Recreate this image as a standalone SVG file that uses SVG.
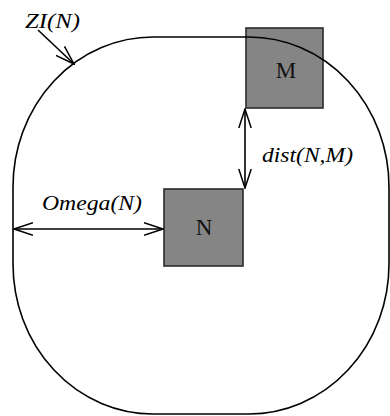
<svg xmlns="http://www.w3.org/2000/svg" width="390" height="416" viewBox="0 0 390 416">
<style>
.ln{fill:none;stroke:#000;stroke-width:1.6}
.box{fill:#858585;stroke:#2a2a2a;stroke-width:1.6}
.lbl{font-family:"Liberation Serif",serif;font-size:21px;fill:#000}
.nl{font-family:"Liberation Serif",serif;font-size:23px;fill:#111}
.it{font-style:italic}
</style>
<defs>
<marker id="ah" viewBox="0 0 20 14" refX="19" refY="7" markerWidth="20" markerHeight="14" markerUnits="userSpaceOnUse" orient="auto-start-reverse">
<path d="M0,0.8 L19,7 L0,13.2" fill="none" stroke="#000" stroke-width="1.5"/>
</marker>
</defs>
<g id="boxes">
<g id="nodeM"><rect class="box" x="246" y="28" width="77" height="80"/><text class="nl" x="286" y="78" text-anchor="middle">M</text></g>
<g id="nodeN"><rect class="box" x="164" y="189" width="79" height="77"/><text class="nl" x="204" y="235" text-anchor="middle">N</text></g>
</g>
<g id="zone"><rect class="ln" x="13" y="37" width="376" height="377" rx="140" ry="150"/></g>
<g id="connectors">
<line class="ln" x1="245" y1="109" x2="245" y2="188" marker-start="url(#ah)" marker-end="url(#ah)"/>
<line class="ln" x1="14" y1="229" x2="163" y2="229" marker-start="url(#ah)" marker-end="url(#ah)"/>
<line class="ln" x1="38" y1="30" x2="74" y2="64" marker-end="url(#ah)"/>
</g>
<g id="labels">
<text class="lbl it" x="25" y="28" textLength="55" lengthAdjust="spacingAndGlyphs">ZI(N)</text>
<text class="lbl it" x="262" y="162" textLength="91" lengthAdjust="spacingAndGlyphs">dist(N,M)</text>
<text class="lbl it" x="42" y="210" textLength="100" lengthAdjust="spacingAndGlyphs">Omega(N)</text>
</g>
</svg>
